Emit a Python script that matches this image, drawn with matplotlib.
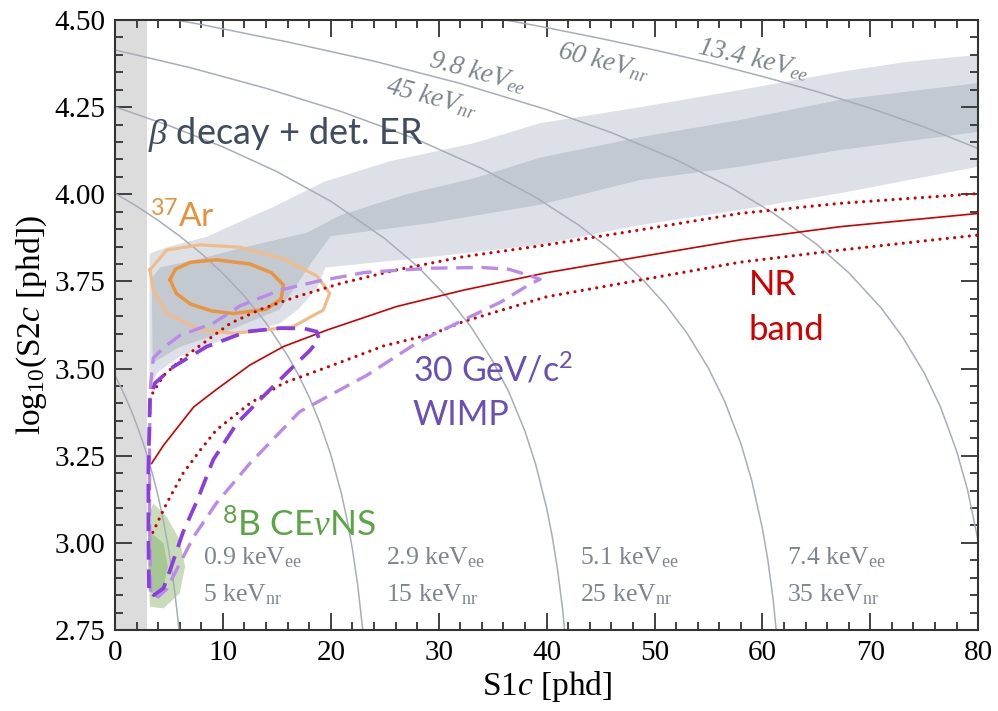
import matplotlib
matplotlib.use("Agg")
import matplotlib.pyplot as plt
from matplotlib.ticker import MultipleLocator

plt.rcParams['mathtext.fontset'] = 'custom'
plt.rcParams['mathtext.rm'] = 'Liberation Serif'
plt.rcParams['mathtext.it'] = 'Liberation Serif:italic'
plt.rcParams['mathtext.bf'] = 'Liberation Serif:bold'

# lines of constant energy
e1_s1 = [0, 0.5, 1, 1.5, 2, 2.5, 3, 3.5, 4, 4.5, 5, 5.25, 5.5, 5.75, 5.93]
e1_y = [3.480, 3.449, 3.416, 3.380, 3.340, 3.297, 3.249, 3.195, 3.134, 3.062, 2.976, 2.926,
        2.869, 2.804, 2.750]
e2_s1 = [0, 2, 4, 6, 8, 10, 12, 14, 16, 17, 18, 19, 20, 21, 21.5, 22, 22.5, 23, 23.5]
e2_y = [4.003, 3.966, 3.925, 3.880, 3.830, 3.773, 3.708, 3.631, 3.537, 3.482, 3.418, 3.343,
        3.253, 3.139, 3.068, 2.983, 2.878, 2.739, 2.533]
e3_s1 = [0, 5, 10, 15, 20, 25, 28, 31, 33, 35, 36.5, 38, 39, 40, 40.5, 41, 41.5, 42, 42.5]
e3_y = [4.251, 4.197, 4.136, 4.065, 3.980, 3.873, 3.794, 3.698, 3.619, 3.522, 3.433, 3.320,
        3.224, 3.100, 3.022, 2.927, 2.806, 2.636, 2.352]
e4_s1 = [0, 7, 14, 21, 28, 34, 39, 43, 46, 49, 51, 53, 55, 56.5, 58, 59, 60, 60.5, 61, 61.5]
e4_y = [4.414, 4.363, 4.304, 4.237, 4.157, 4.074, 3.991, 3.911, 3.839, 3.752, 3.684, 3.602,
        3.501, 3.406, 3.285, 3.180, 3.041, 2.951, 2.836, 2.680]
e5_s1 = [0, 8, 16, 24, 32, 40, 46, 52, 57, 61, 65, 68, 71, 73, 75, 76.5, 78, 79, 80]
e5_y = [4.531, 4.487, 4.437, 4.382, 4.318, 4.243, 4.177, 4.099, 4.021, 3.946, 3.857, 3.775,
        3.674, 3.590, 3.487, 3.390, 3.263, 3.153, 3.004]
e6_s1 = [30, 35, 40, 45, 50, 55, 60, 65, 70, 75, 80]
e6_y = [4.534, 4.507, 4.478, 4.447, 4.414, 4.378, 4.338, 4.295, 4.247, 4.193, 4.131]

# ER band, outer (light) and inner (dark) outlines
er_out_s1 = [3.2, 5, 8.5, 11.5, 14.7, 19.3, 25.5, 33.2, 39.4, 48.7, 57.9, 67.2, 73.4, 80,
             80, 67.2, 57.9, 48.7, 39.4, 29.2, 19.5, 18.7, 17, 15.3, 10.7, 6.0, 4.0, 3.2]
er_out_y = [3.83, 3.85, 3.878, 3.92, 3.964, 4.035, 4.095, 4.146, 4.204, 4.25, 4.299, 4.351, 4.38, 4.40,
            4.079, 4.003, 3.955, 3.912, 3.855, 3.82, 3.79, 3.73, 3.67, 3.63, 3.59, 3.535, 3.49, 3.45]
er_in_s1 = [3.4, 4.2, 7.9, 11.6, 17.8, 20.9, 27.0, 33.2, 39.4, 48.7, 57.9, 67.2, 80,
            80, 67.2, 57.9, 48.7, 39.4, 29.2, 20, 18.4, 15.3, 10.7, 6.0, 3.5]
er_in_y = [3.76, 3.79, 3.815, 3.845, 3.89, 3.94, 4.0, 4.045, 4.105, 4.164, 4.213, 4.271, 4.319,
           4.179, 4.127, 4.079, 4.041, 3.97, 3.917, 3.88, 3.812, 3.67, 3.611, 3.562, 3.516]

# NR band: median and 10/90 % lines
nr_med_s1 = [3.4, 4.5, 6.33, 7.3, 9.4, 12.5, 15.6, 19.7, 26.1, 32.3, 40.0, 48.7, 57.9, 67.2, 80]
nr_med_y = [3.228, 3.28, 3.352, 3.39, 3.44, 3.51, 3.563, 3.611, 3.678, 3.725, 3.775, 3.821, 3.869, 3.907, 3.945]
nr_hi_s1 = [3.5, 4.5, 6.3, 8.5, 10.7, 13.5, 16.8, 21, 26.1, 32.3, 39.4, 48.7, 57.9, 67.2, 80]
nr_hi_y = [3.43, 3.48, 3.53, 3.58, 3.63, 3.67, 3.706, 3.745, 3.783, 3.821, 3.852, 3.898, 3.945, 3.974, 4.002]
nr_lo_s1 = [3.5, 4.8, 6.3, 7.9, 9.4, 12.5, 15.6, 20.2, 24.9, 29.5, 32.3, 40.0, 48.7, 57.9, 67.2, 80]
nr_lo_y = [3.03, 3.114, 3.199, 3.266, 3.324, 3.40, 3.458, 3.51, 3.565, 3.60, 3.635, 3.706, 3.754, 3.805, 3.84, 3.883]

# 30 GeV WIMP contours
wimp_out_s1 = [3.3, 3.2, 3.2, 3.3, 3.55, 4.5, 6.0, 9.1, 11.6, 15.3, 18.7, 23.2, 29.3, 34, 36.5, 38.5, 39.4,
               38.5, 35.7, 32.6, 28.0, 23.3, 21.5, 17.1, 12.5, 9.4, 7.3, 5.7, 4.8, 4.0, 3.3]
wimp_out_y = [2.86, 3.1, 3.3, 3.45, 3.53, 3.56, 3.595, 3.63, 3.68, 3.725, 3.75, 3.776, 3.788, 3.79, 3.785, 3.766, 3.756,
              3.743, 3.69, 3.644, 3.574, 3.48, 3.45, 3.376, 3.228, 3.114, 3.018, 2.922, 2.868, 2.845, 2.86]
wimp_in_s1 = [3.15, 3.1, 3.1, 3.24, 3.7, 5.4, 8.5, 12.2, 15.3, 17.5, 18.7, 18.9, 18.1, 16.2, 13.7, 11.3, 9.1,
              7.6, 6.3, 5.2, 4.5, 3.6, 3.15]
wimp_in_y = [2.87, 3.03, 3.215, 3.41, 3.458, 3.505, 3.563, 3.606, 3.616, 3.615, 3.606, 3.585, 3.553, 3.496, 3.419,
             3.343, 3.238, 3.12, 3.03, 2.93, 2.87, 2.85, 2.87]

# 37Ar contours
ar_out_s1 = [3.24, 4.8, 7.9, 11.6, 15.6, 18.7, 19.9, 19.3, 16.5, 11.0, 7.9, 4.8, 3.55, 3.24]
ar_out_y = [3.783, 3.840, 3.855, 3.848, 3.815, 3.766, 3.716, 3.668, 3.620, 3.601, 3.611, 3.658, 3.725, 3.783]
ar_in_s1 = [5.1, 5.6, 7.0, 9.4, 12.5, 14.5, 15.6, 15.4, 14.0, 11.0, 9.0, 7.0, 5.7, 5.1]
ar_in_y = [3.755, 3.785, 3.805, 3.812, 3.80, 3.775, 3.74, 3.70, 3.67, 3.658, 3.665, 3.685, 3.715, 3.755]

# 8B CEvNS blobs
b8_out_s1 = [3.55, 4.8, 6.0, 6.5, 6.0, 4.5, 3.24, 3.1, 3.1, 3.55]
b8_out_y = [3.113, 3.075, 3.008, 2.932, 2.855, 2.812, 2.817, 2.932, 3.075, 3.113]
b8_in_s1 = [3.4, 4.5, 4.9, 4.5, 3.4, 3.1, 3.4]
b8_in_y = [3.027, 2.999, 2.932, 2.874, 2.855, 2.93, 3.027]

fig = plt.figure(figsize=(9.98, 7.11), dpi=100)
ax = fig.add_axes([0.1152, 0.1139, 0.865, 0.858])

ax.axvspan(0, 3, color='#dcdcdc', zorder=0, lw=0)

ax.fill(er_out_s1, er_out_y, color='#dde1e7', lw=0, zorder=1)
ax.fill(er_in_s1, er_in_y, color='#c3c9d1', lw=0, zorder=1.1)

ax.fill(b8_out_s1, b8_out_y, color='#c8dcb9', lw=0, zorder=1.2)
ax.fill(b8_in_s1, b8_in_y, color='#a6c793', lw=0, zorder=1.3)

curve_col = '#a7aeb8'
for xs, ys in [(e1_s1, e1_y), (e2_s1, e2_y), (e3_s1, e3_y),
               (e4_s1, e4_y), (e5_s1, e5_y), (e6_s1, e6_y)]:
    ax.plot(xs, ys, color=curve_col, lw=1.1, zorder=2)

ax.plot(ar_out_s1, ar_out_y, color='#f0bd8a', lw=2.3, zorder=3)
ax.plot(ar_in_s1, ar_in_y, color='#e9953f', lw=2.5, zorder=3)

red = '#cc0000'
dots = (0, (0.01, 2.3))
ax.plot(nr_med_s1, nr_med_y, color=red, lw=1.2, zorder=4)
ax.plot(nr_hi_s1, nr_hi_y, color=red, lw=2.3, ls=dots, dash_capstyle='round', zorder=4)
ax.plot(nr_lo_s1, nr_lo_y, color=red, lw=2.3, ls=dots, dash_capstyle='round', zorder=4)

ax.plot(wimp_out_s1, wimp_out_y, color='#b98aec', lw=2.4, ls=(0, (5, 2.6)), zorder=5)
ax.plot(wimp_in_s1, wimp_in_y, color='#8a3fdc', lw=2.7, ls=(0, (5, 2.6)), zorder=5.1)

# labels
sans = 'Lato'
ax.text(3.1, 4.144, r'$\beta$ decay + det. ER', family=sans, fontsize=26, color='#3f4b5e',
        va='baseline', zorder=6)
ax.text(3.2, 3.903, r'$\mathregular{^{37}}$Ar', family=sans, fontsize=24, color='#e8913a',
        va='baseline', zorder=6)
ax.text(58.7, 3.711, 'NR', family=sans, fontsize=25, color='#d00000', va='baseline', zorder=6)
ax.text(58.7, 3.582, 'band', family=sans, fontsize=25, color='#d00000', va='baseline', zorder=6)
ax.text(27.6, 3.462, r'30 GeV/c$\mathregular{^2}$', family=sans, fontsize=24.5, color='#6a4fb8',
        va='baseline', zorder=6)
ax.text(27.6, 3.338, 'WIMP', family=sans, fontsize=24.5, color='#6a4fb8', va='baseline', zorder=6)
ax.text(9.9, 3.018, r'$\mathregular{^{8}}$B CE$\nu$NS', family=sans, fontsize=25.5, color='#5aa544',
        va='baseline', zorder=6)

serif = 'Liberation Serif'
lab_col = '#7d858f'
bottom_labels = [(8.2, '0.9', '5'), (25.1, '2.9', '15'), (43.1, '5.1', '25'), (62.3, '7.4', '35')]
for x0, ee, nr in bottom_labels:
    ax.text(x0, 2.937, ee + r' keV$\mathregular{_{ee}}$', family=serif, fontsize=18.5,
            color=lab_col, va='baseline', zorder=6)
    ax.text(x0, 2.831, nr + r' keV$\mathregular{_{nr}}$', family=serif, fontsize=18.5,
            color=lab_col, va='baseline', zorder=6)

top_labels = [(33.6, 4.351, r'9.8 keV$\mathregular{_{ee}}$', -15),
              (29.4, 4.279, r'45 keV$\mathregular{_{nr}}$', -15),
              (45.3, 4.380, r'60 keV$\mathregular{_{nr}}$', -14),
              (59.2, 4.388, r'13.4 keV$\mathregular{_{ee}}$', -13)]
for x0, y0, s, rot in top_labels:
    ax.text(x0, y0, s, family=serif, style='italic', fontsize=19.5, color=lab_col,
            ha='center', va='center', rotation=rot, rotation_mode='anchor', zorder=6)

ax.set_xlim(0, 80)
ax.set_ylim(2.75, 4.5)
ax.xaxis.set_major_locator(MultipleLocator(10))
ax.xaxis.set_minor_locator(MultipleLocator(2))
ax.yaxis.set_major_locator(MultipleLocator(0.25))
ax.yaxis.set_minor_locator(MultipleLocator(0.05))
ax.yaxis.set_major_formatter(plt.FormatStrFormatter('%.2f'))
ax.tick_params(which='both', direction='in', top=True, right=True, color='#333333', width=1.3)
ax.tick_params(which='major', length=12, labelsize=21, pad=7)
ax.tick_params(which='minor', length=6)
for lab in ax.get_xticklabels() + ax.get_yticklabels():
    lab.set_family(serif)
for sp in ax.spines.values():
    sp.set_color('#333333')
    sp.set_linewidth(1.5)

ax.set_xlabel(r'S1$c$ [phd]', family=serif, fontsize=24, labelpad=2)
ax.set_ylabel(r'log$\mathregular{_{10}}$(S2$c$ [phd])', family=serif, fontsize=24, labelpad=4)

fig.savefig('out.png', dpi=100)
